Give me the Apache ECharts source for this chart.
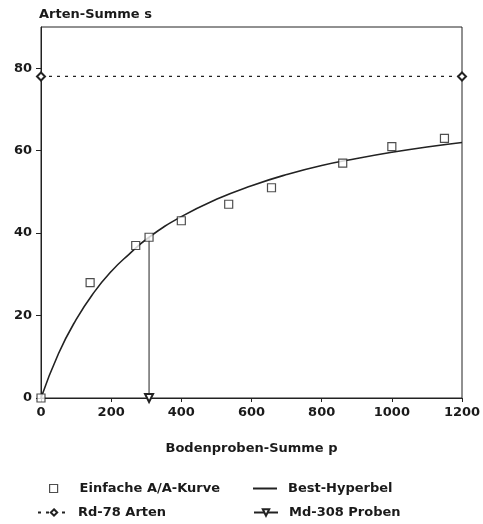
<!DOCTYPE html>
<html>
<head>
<meta charset="utf-8">
<script src="https://cdn.jsdelivr.net/npm/echarts@6/dist/echarts.min.js"></script>
<style>html,body{margin:0;padding:0;background:#fff;}#c{width:483px;height:524px;}</style>
</head>
<body>
<div id="c"></div>
<script>
// A/A curve observations (Bodenproben-Summe p, Arten-Summe s)
var aaP = [0, 140, 270, 308, 400, 535, 657, 860, 1000, 1150];
var aaS = [0, 28, 37, 39, 43, 47, 51, 57, 61, 63];
// Best-Hyperbel
var hypP = [0, 50, 100, 150, 200, 250, 308, 400, 500, 600, 700, 800, 900, 1000, 1100, 1200];
var hypS = [0, 10.8, 19, 25.5, 30.7, 34.8, 39, 44, 48.2, 51.5, 54.2, 56.4, 58.1, 59.6, 60.9, 62];
// Rd-78 Arten horizontal line
var rdP = [0, 1200];
var rdS = [78, 78];
// Md-308 Proben vertical line
var mdP = [308, 308];
var mdS = [0, 39];
var xTicks = [0, 200, 400, 600, 800, 1000, 1200];
var yTicks = [0, 20, 40, 60, 80];

function pairs(a, b) { return a.map(function (v, i) { return [v, b[i]]; }); }

var FONT = 'DejaVu Sans';
var TXT = '#1a1a1a';
var chart = echarts.init(document.getElementById('c'));
function lt(pad) { return { fontFamily: FONT, fontWeight: 'bold', fontSize: 13, color: TXT, padding: [0, 0, 0, pad] }; }
function plain(v) { return String(v); }
chart.setOption({
  animation: false,
  backgroundColor: '#fff',
  grid: { left: 41, right: 21, top: 27, bottom: 126, show: true, borderColor: '#222', borderWidth: 1, outerBoundsMode: 'none', containLabel: false },
  xAxis: {
    type: 'value', min: 0, max: 1200, interval: 200,
    name: 'Bodenproben-Summe p', nameLocation: 'middle', nameGap: 44,
    nameTextStyle: { fontFamily: FONT, fontWeight: 'bold', fontSize: 13, color: TXT },
    axisLine: { show: true, lineStyle: { color: '#222', width: 1 } },
    axisTick: { show: true, inside: false, length: 4, lineStyle: { color: '#222' }, customValues: xTicks },
    axisLabel: { margin: 8, fontFamily: FONT, fontWeight: 'bold', fontSize: 13, color: TXT, customValues: xTicks, formatter: plain },
    splitLine: { show: false }
  },
  yAxis: {
    type: 'value', min: 0, max: 90, interval: 20,
    name: 'Arten-Summe s', nameLocation: 'end', nameGap: 6,
    nameTextStyle: { fontFamily: FONT, fontWeight: 'bold', fontSize: 13, color: TXT, align: 'left', padding: [0, 0, 0, -2] },
    axisLine: { show: true, lineStyle: { color: '#222', width: 1 } },
    axisTick: { show: true, inside: false, length: 5, lineStyle: { color: '#222' }, customValues: yTicks },
    axisLabel: { margin: 9, fontFamily: FONT, fontWeight: 'bold', fontSize: 13, color: TXT, customValues: yTicks, formatter: plain },
    splitLine: { show: false }
  },
  legend: [
    { data: [{ name: 'Einfache A/A-Kurve', icon: 'rect', itemStyle: { color: '#fff', borderColor: '#222', borderWidth: 1.2 } }],
      left: 49, top: 482, padding: 0, itemWidth: 8, itemHeight: 8, textStyle: lt(17) },
    { data: [{ name: 'Best-Hyperbel', icon: 'rect', itemStyle: { color: '#222', borderWidth: 0 } }],
      left: 253, top: 482, padding: 0, itemWidth: 24, itemHeight: 2, textStyle: lt(6) },
    { data: ['Rd-78 Arten'], left: 37, top: 506, padding: 0, itemWidth: 32, itemHeight: 8, textStyle: lt(3) },
    { data: ['Md-308 Proben'], left: 253, top: 506, padding: 0, itemWidth: 24, itemHeight: 8, textStyle: lt(6) }
  ],
  series: [
    {
      name: 'Best-Hyperbel', type: 'line', smooth: true, symbol: 'none',
      data: pairs(hypP, hypS), lineStyle: { color: '#222', width: 1.6 }, itemStyle: { color: '#222' }, z: 2
    },
    {
      name: 'Md-308 Proben', type: 'line', symbol: 'emptyTriangle', symbolSize: 8, symbolRotate: 180,
      data: [{ value: [mdP[0], mdS[0]] }, { value: [mdP[1], mdS[1]], symbol: 'none' }],
      lineStyle: { color: '#222', width: 1 }, itemStyle: { color: '#222', borderWidth: 1.2 }, z: 3
    },
    {
      name: 'Rd-78 Arten', type: 'line', symbol: 'emptyDiamond', symbolSize: 8,
      data: pairs(rdP, rdS), lineStyle: { color: '#222', width: 1.2, type: [3, 5] },
      itemStyle: { color: '#222', borderWidth: 1.2 }, z: 3
    },
    {
      name: 'Einfache A/A-Kurve', type: 'scatter', symbol: 'rect', symbolSize: 8,
      data: pairs(aaP, aaS), itemStyle: { color: '#fff', borderColor: '#222', borderWidth: 1.2 }, z: 4
    }
  ]
});
</script>
</body>
</html>
